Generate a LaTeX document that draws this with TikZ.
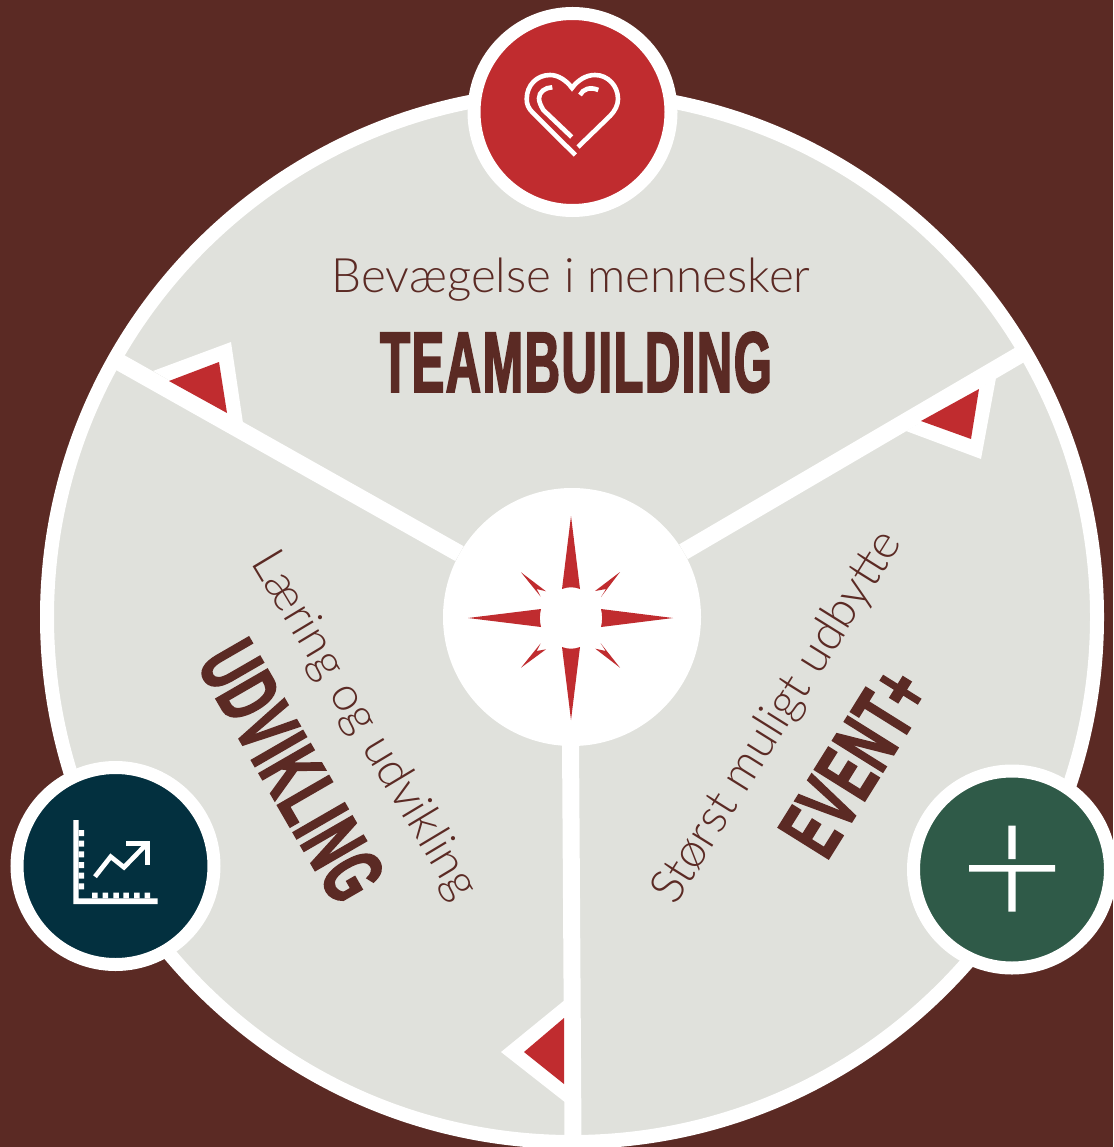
\documentclass[tikz,border=0pt]{standalone}
\usepackage{fontspec}
\setmainfont{Lato}[UprightFont=* Light]
\newfontfamily\headfont{Liberation Sans}[UprightFont=* Bold,FakeStretch=0.565,FakeBold=2,LetterSpace=2]
\definecolor{bgbrown}{HTML}{5B2A24}
\definecolor{discgrey}{HTML}{E0E1DC}
\definecolor{teamred}{HTML}{C02C2F}
\definecolor{learnblue}{HTML}{03303F}
\definecolor{eventgreen}{HTML}{2F5A48}
\tikzset{
    badge/.style={circle,draw=white,line width=13pt,minimum size=197pt,inner sep=0pt},
    spoke/.style={draw=white,line width=17pt},
    flag/.style={fill=white},
    flagred/.style={fill=teamred},
    starred/.style={fill=teamred},
    iconline/.style={draw=white,line width=4.6pt},
    subtext/.style={text=bgbrown,inner sep=0pt,font=\fontsize{47.5}{47.5}\selectfont},
    headtext/.style={text=bgbrown,inner sep=0pt,font=\headfont\fontsize{86}{86}\selectfont},
}
\begin{document}
\begin{tikzpicture}[x=1pt,y=-1pt]
    \useasboundingbox (0,0) rectangle (1113,1147);
    \fill[bgbrown] (0,0) rectangle (1113,1147);
    \node[circle,draw=white,fill=discgrey,line width=14pt,minimum size=1050pt,inner sep=0pt] (disc) at (572,617) {};
    \node[circle,fill=white,minimum size=258pt,inner sep=0pt] (hub) at (572,617) {};

    \coordinate (rimL) at (112,358);
    \coordinate (rimR) at (1028,350);
    \coordinate (rimB) at (573,1140);
    \draw[spoke] (hub) -- (rimL);
    \draw[spoke] (hub) -- (rimR);
    \draw[spoke] (570.5,740) -- (rimB);

    \fill[flag] (153,371) -- (231,342) -- (243,423) -- cycle;
    \fill[flag] (906,431) -- (981,459) -- (996,378) -- cycle;
    \fill[flag] (566,999) -- (501,1052) -- (566,1103) -- cycle;
    \fill[flagred] (169,381) -- (219,362) -- (227,413) -- cycle;
    \fill[flagred] (921,421) -- (971,439) -- (979,389) -- cycle;
    \fill[flagred] (564,1018) -- (524,1052) -- (564,1084) -- cycle;

    \fill[starred] (571,516) -- (580,589) .. controls (574,586.7) and (568,586.7) .. (562,589) -- cycle;
    \fill[starred] (571,720) -- (580,647) .. controls (574,649.3) and (568,649.3) .. (562,647) -- cycle;
    \fill[starred] (468,618) -- (541,609) .. controls (539.5,615) and (539.5,621) .. (541,627) -- cycle;
    \fill[starred] (673,618) -- (601,609) .. controls (602.5,615) and (602.5,621) .. (601,627) -- cycle;
    \fill[starred] (620,572) -- (595,591) -- (606,589) -- (601,597) -- cycle;
    \fill[starred] (521,572.3) -- (546,591.3) -- (536.7,589) -- (540.7,596.7) -- cycle;
    \fill[starred] (620,667.7) -- (595.3,648.7) -- (605.7,651) -- (600.7,643.3) -- cycle;
    \fill[starred] (521,667.7) -- (546,649.3) -- (536.7,651) -- (540.7,643.3) -- cycle;

    \node[badge,fill=teamred] (team) at (572.5,112) {};
    \node[badge,fill=learnblue] (learn) at (115.5,866) {};
    \node[badge,fill=eventgreen] (event) at (1012,869.5) {};

    \draw[iconline] (575.3,155) -- (533,113) .. controls (528,108) and (526.7,104) .. (526.7,99) .. controls (526.7,85) and (537,75) .. (550,75) .. controls (558,75) and (566,80) .. (572,88) .. controls (578,80) and (586,75) .. (595,75) .. controls (608,75) and (618,86) .. (618,99) .. controls (618,105) and (615,111) .. (610,116) -- (578,147);
    \draw[iconline] (552.3,87.3) .. controls (545,87.5) and (539,92) .. (539,98.3) .. controls (539,102) and (541,106) .. (543.3,110) -- (571.7,137);
    \draw[iconline] (598.3,90) .. controls (590,86.5) and (583,89) .. (580,95);

    \fill[white] (73.3,820) rectangle (78.7,904) (73.3,898.3) rectangle (157.7,904);
    \fill[white] (78.7,830) rectangle (84,836) (78.7,840.7) rectangle (84,846.7) (78.7,851.3) rectangle (84,857.3) (78.7,862) rectangle (84,868) (78.7,872.7) rectangle (84,878.7) (78.7,883.3) rectangle (84,889.3);
    \fill[white] (92,892.7) rectangle (97.5,898.3) (102.7,892.7) rectangle (108.2,898.3) (113.3,892.7) rectangle (118.8,898.3) (123.3,892.7) rectangle (128.8,898.3) (134,892.7) rectangle (139.5,898.3) (144.7,892.7) rectangle (150.2,898.3);
    \draw[iconline,line width=4.7pt] (95,876.7) -- (110.7,856.7) -- (124,867.3) -- (147.3,843.3);
    \draw[iconline,line width=4.7pt] (126,843.3) -- (147.3,843.3) -- (147.3,865);

    \fill[white] (1008.3,825.7) rectangle (1015.7,859) (969,865) rectangle (1055,871.7) (1008.3,871.7) rectangle (1015.7,911.7);

    \node[subtext,anchor=base] (teamsub) at (571,293) {Bevægelse i mennesker};
    \node[headtext,anchor=base] (teamhead) at (576,392) {TEAMBUILDING};
    \node[subtext,anchor=base west,rotate=-59] (learnsub) at (250,562) {Læring og udvikling};
    \node[headtext,anchor=base west,rotate=-60] (learnhead) at (196,664) {UDVIKLING};
    \node[subtext,anchor=base west,rotate=58] (eventsub) at (675,907) {Størst muligt udbytte};
    \node[headtext,anchor=base west,rotate=58] (eventhead) at (826.7,861.7) {EVENT+};
\end{tikzpicture}
\end{document}
